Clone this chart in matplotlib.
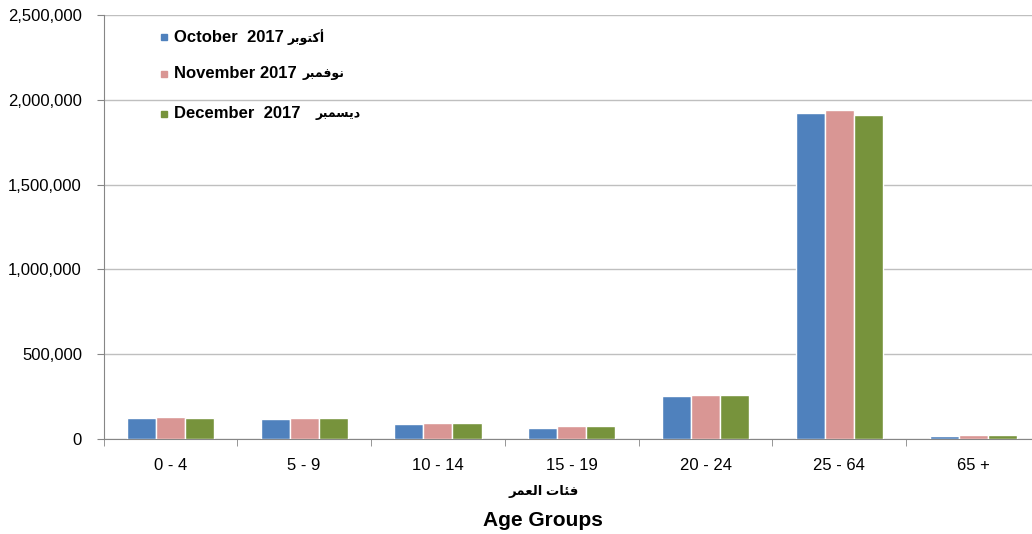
import numpy as np
import matplotlib.pyplot as plt
from matplotlib.ticker import FuncFormatter

plt.rcParams['font.family'] = ['Liberation Sans', 'DejaVu Sans']

age_groups = ['0 - 4', '5 - 9', '10 - 14', '15 - 19', '20 - 24', '25 - 64', '65 +']
october = [124000, 118000, 88000, 65000, 255000, 1922000, 16000]
november = [130000, 126000, 96000, 77000, 261000, 1938000, 25000]
december = [126000, 122000, 94000, 75000, 259000, 1908000, 25000]

# Arabic written in presentation forms, visual order (no shaping engine available)
ar_oct = '\uFEAE\uFE91\uFEEE\uFE98\uFEDB\uFE83'
ar_nov = '\uFEAE\uFE92\uFEE4\uFED3\uFEEE\uFEE7'
ar_dec = '\uFEAE\uFE92\uFEE4\uFEB4\uFEF3\uFEA9'
ar_axis = '\uFEAE\uFEE4\uFECC\uFEDF\uFE8D \uFE95\uFE8E\uFE8C\uFED3'

series = [
    (october, '#4F81BD', 'October  2017', ar_oct, 288),
    (november, '#D99694', 'November 2017', ar_nov, 303),
    (december, '#77933C', 'December  2017', ar_dec, 316),
]

fig = plt.figure(figsize=(10.32, 5.34), dpi=100)
ax = fig.add_axes([103.5 / 1032, 1 - 439 / 534, (1040 - 103.5) / 1032, (439 - 15) / 534])

x = np.arange(len(age_groups))
w = 0.217
for i, (vals, color, label, ar, ax_x) in enumerate(series):
    ax.bar(x + (i - 1) * w, vals, width=w, color=color, edgecolor='white',
           linewidth=1, zorder=3)

ax.set_xlim(-0.5, len(age_groups) - 0.5)
ax.set_ylim(0, 2500000)
ax.set_yticks(np.arange(0, 2500001, 500000))
ax.yaxis.set_major_formatter(FuncFormatter(lambda v, p: f'{int(v):,}'))
ax.set_xticks(x)
ax.set_xticklabels(age_groups)
ax.set_xticks(np.arange(-0.5, len(age_groups)), minor=True)
ax.tick_params(axis='x', which='major', length=0, pad=14, labelsize=12)
ax.tick_params(axis='x', which='minor', length=5, color='#868686', direction='out')
ax.tick_params(axis='y', length=5, color='#868686', pad=10.5, labelsize=12)

ax.grid(axis='y', color='#BFBFBF', linewidth=1, zorder=0)
for s in ['top', 'right']:
    ax.spines[s].set_visible(False)
for s in ['left', 'bottom']:
    ax.spines[s].set_color('#868686')

# legend drawn as marker + text
leg_y = [37, 74, 114]
for (vals, color, label, ar, ar_x), yy in zip(series, leg_y):
    fig.patches.append(plt.Rectangle((161 / 1032, 1 - (yy + 3) / 534), 6 / 1032, 6 / 534,
                                     transform=fig.transFigure, color=color, figure=fig))
    fig.text(174 / 1032, 1 - yy / 534, label, fontsize=12, fontweight='bold',
             va='center', ha='left')
    fig.text(ar_x / 1032, 1 - yy / 534, ar, fontsize=9, fontweight='bold',
             va='center', ha='left')

fig.text(0.5265, 1 - 492 / 534, ar_axis, fontsize=9.5, fontweight='bold', ha='center', va='center')
fig.text(0.5265, 1 - 520 / 534, 'Age Groups', fontsize=15, fontweight='bold', ha='center', va='center')

fig.savefig('out.png', dpi=100)
